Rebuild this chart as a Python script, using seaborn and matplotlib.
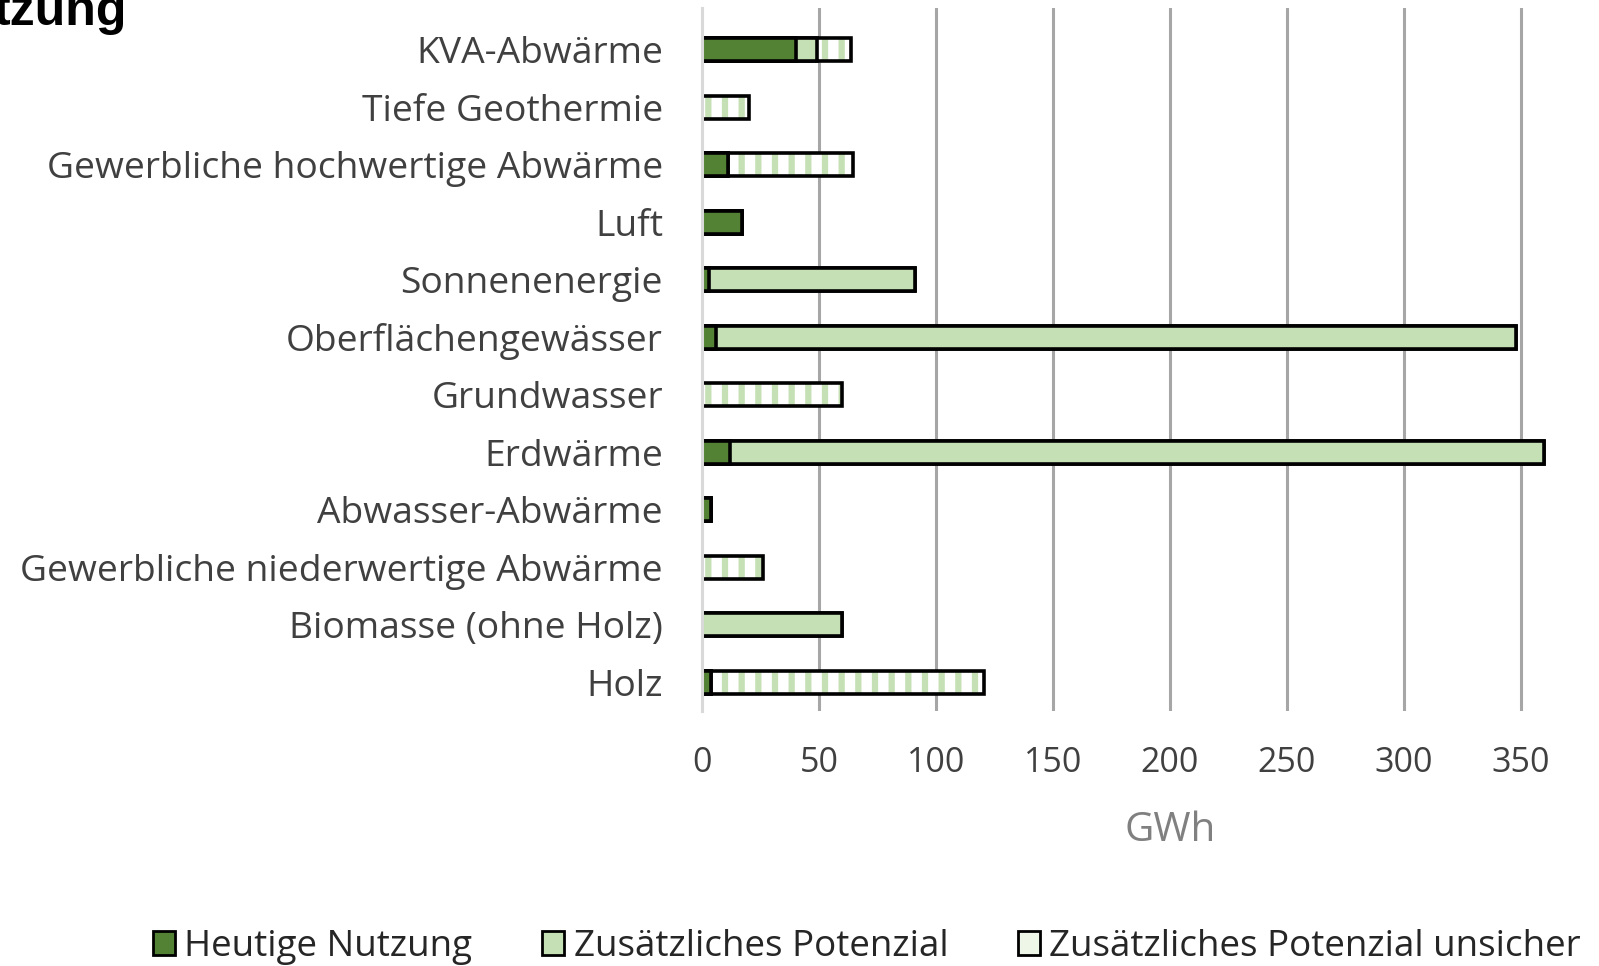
import matplotlib
matplotlib.use("Agg")
import matplotlib.pyplot as plt
import seaborn as sns
import numpy as np
import pandas as pd
from matplotlib.patches import Patch

categories = ["KVA-Abwärme", "Tiefe Geothermie", "Gewerbliche hochwertige Abwärme", "Luft",
              "Sonnenenergie", "Oberflächengewässer", "Grundwasser", "Erdwärme",
              "Abwasser-Abwärme", "Gewerbliche niederwertige Abwärme", "Biomasse (ohne Holz)", "Holz"]
heutige = [40, 0, 11, 17, 3, 6, 0, 12, 4, 0, 0, 4]
zusaetzlich = [9, 0, 0, 0, 88, 342, 0, 348, 0, 0, 60, 0]
unsicher = [14.5, 20, 53.5, 0, 0, 0, 60, 0, 0, 26, 0, 116.5]
series_names = ["Heutige Nutzung", "Zusätzliches Potenzial", "Zusätzliches Potenzial unsicher"]
xticks = [0, 50, 100, 150, 200, 250, 300, 350]

DARK = "#548235"
LIGHT = "#c5e0b4"

sns.set_theme(style="white")
plt.rcParams["font.family"] = ["Open Sans", "DejaVu Sans"]
plt.rcParams["hatch.linewidth"] = 4.5

df = pd.DataFrame({"cat": categories, "h": heutige, "z": zusaetzlich, "u": unsicher})
df["c1"] = df["h"]
df["c2"] = df["h"] + df["z"]
df["c3"] = df["c2"] + df["u"]

fig = plt.figure(figsize=(15.99, 9.66), dpi=100)
# plot area continues past the right edge of the (cropped) picture
ax = fig.add_axes([702/1599, 1 - 711/966, 936/1599, (711 - 8)/966])

W = 0.4
LW = 2.6
# hatched (uncertain) layer: hatch pass
sns.barplot(data=df, x="c3", y="cat", orient="h", color="white", saturation=1,
            width=W, linewidth=0, ax=ax)
for p in ax.patches:
    p.set_hatch("|")
    p.set_edgecolor(LIGHT)
    p.set_linewidth(0)
n0 = len(ax.patches)
# outline pass
sns.barplot(data=df, x="c3", y="cat", orient="h", fill=False, color="black", saturation=1,
            width=W, linewidth=LW, ax=ax)
for p in ax.patches[n0:]:
    p.set_edgecolor("black")
    p.set_facecolor("none")
# additional potential
sns.barplot(data=df, x="c2", y="cat", orient="h", color=LIGHT, saturation=1,
            width=W, edgecolor="black", linewidth=LW, ax=ax)
# current use
sns.barplot(data=df, x="c1", y="cat", orient="h", color=DARK, saturation=1,
            width=W, edgecolor="black", linewidth=LW, ax=ax)

ax.set_xlim(0, 400)
ax.set_ylim(len(categories) - 0.5, -0.73)
ax.set_xticks(xticks)
ax.grid(axis="x", color="#a6a6a6", linewidth=2.2)
ax.grid(axis="y", visible=False)
ax.set_axisbelow(True)
ax.xaxis.get_gridlines()[0].set_visible(False)
for s in ["top", "right", "bottom"]:
    ax.spines[s].set_visible(False)
ax.spines["left"].set_color("#d9d9d9")
ax.spines["left"].set_linewidth(2.2)

ax.tick_params(axis="x", length=0, pad=25, labelsize=24.5, labelcolor="#404040")
ax.tick_params(axis="y", length=0, pad=28, labelsize=26.8, labelcolor="#404040")
ax.set_ylabel("")
ax.set_xlabel("GWh", fontsize=29, color="#808080", labelpad=22)

handles = [Patch(facecolor=DARK, edgecolor="black", linewidth=2),
           Patch(facecolor=LIGHT, edgecolor="black", linewidth=2),
           Patch(facecolor="#eef6e8", edgecolor="black", linewidth=2)]
fig.legend(handles, series_names, loc="center", bbox_to_anchor=(867/1599, 1 - 947/966),
           ncol=3, frameon=False, fontsize=26.5, handlelength=0.6, handleheight=0.6,
           handletextpad=0.25, columnspacing=1.9, labelcolor="#262626")

fig.text(-0.004, 1 - 25/966, "tzung", fontsize=36, fontweight="bold",
         family="Liberation Sans", va="baseline", ha="left", color="black")

fig.savefig("out.png", dpi=100)
